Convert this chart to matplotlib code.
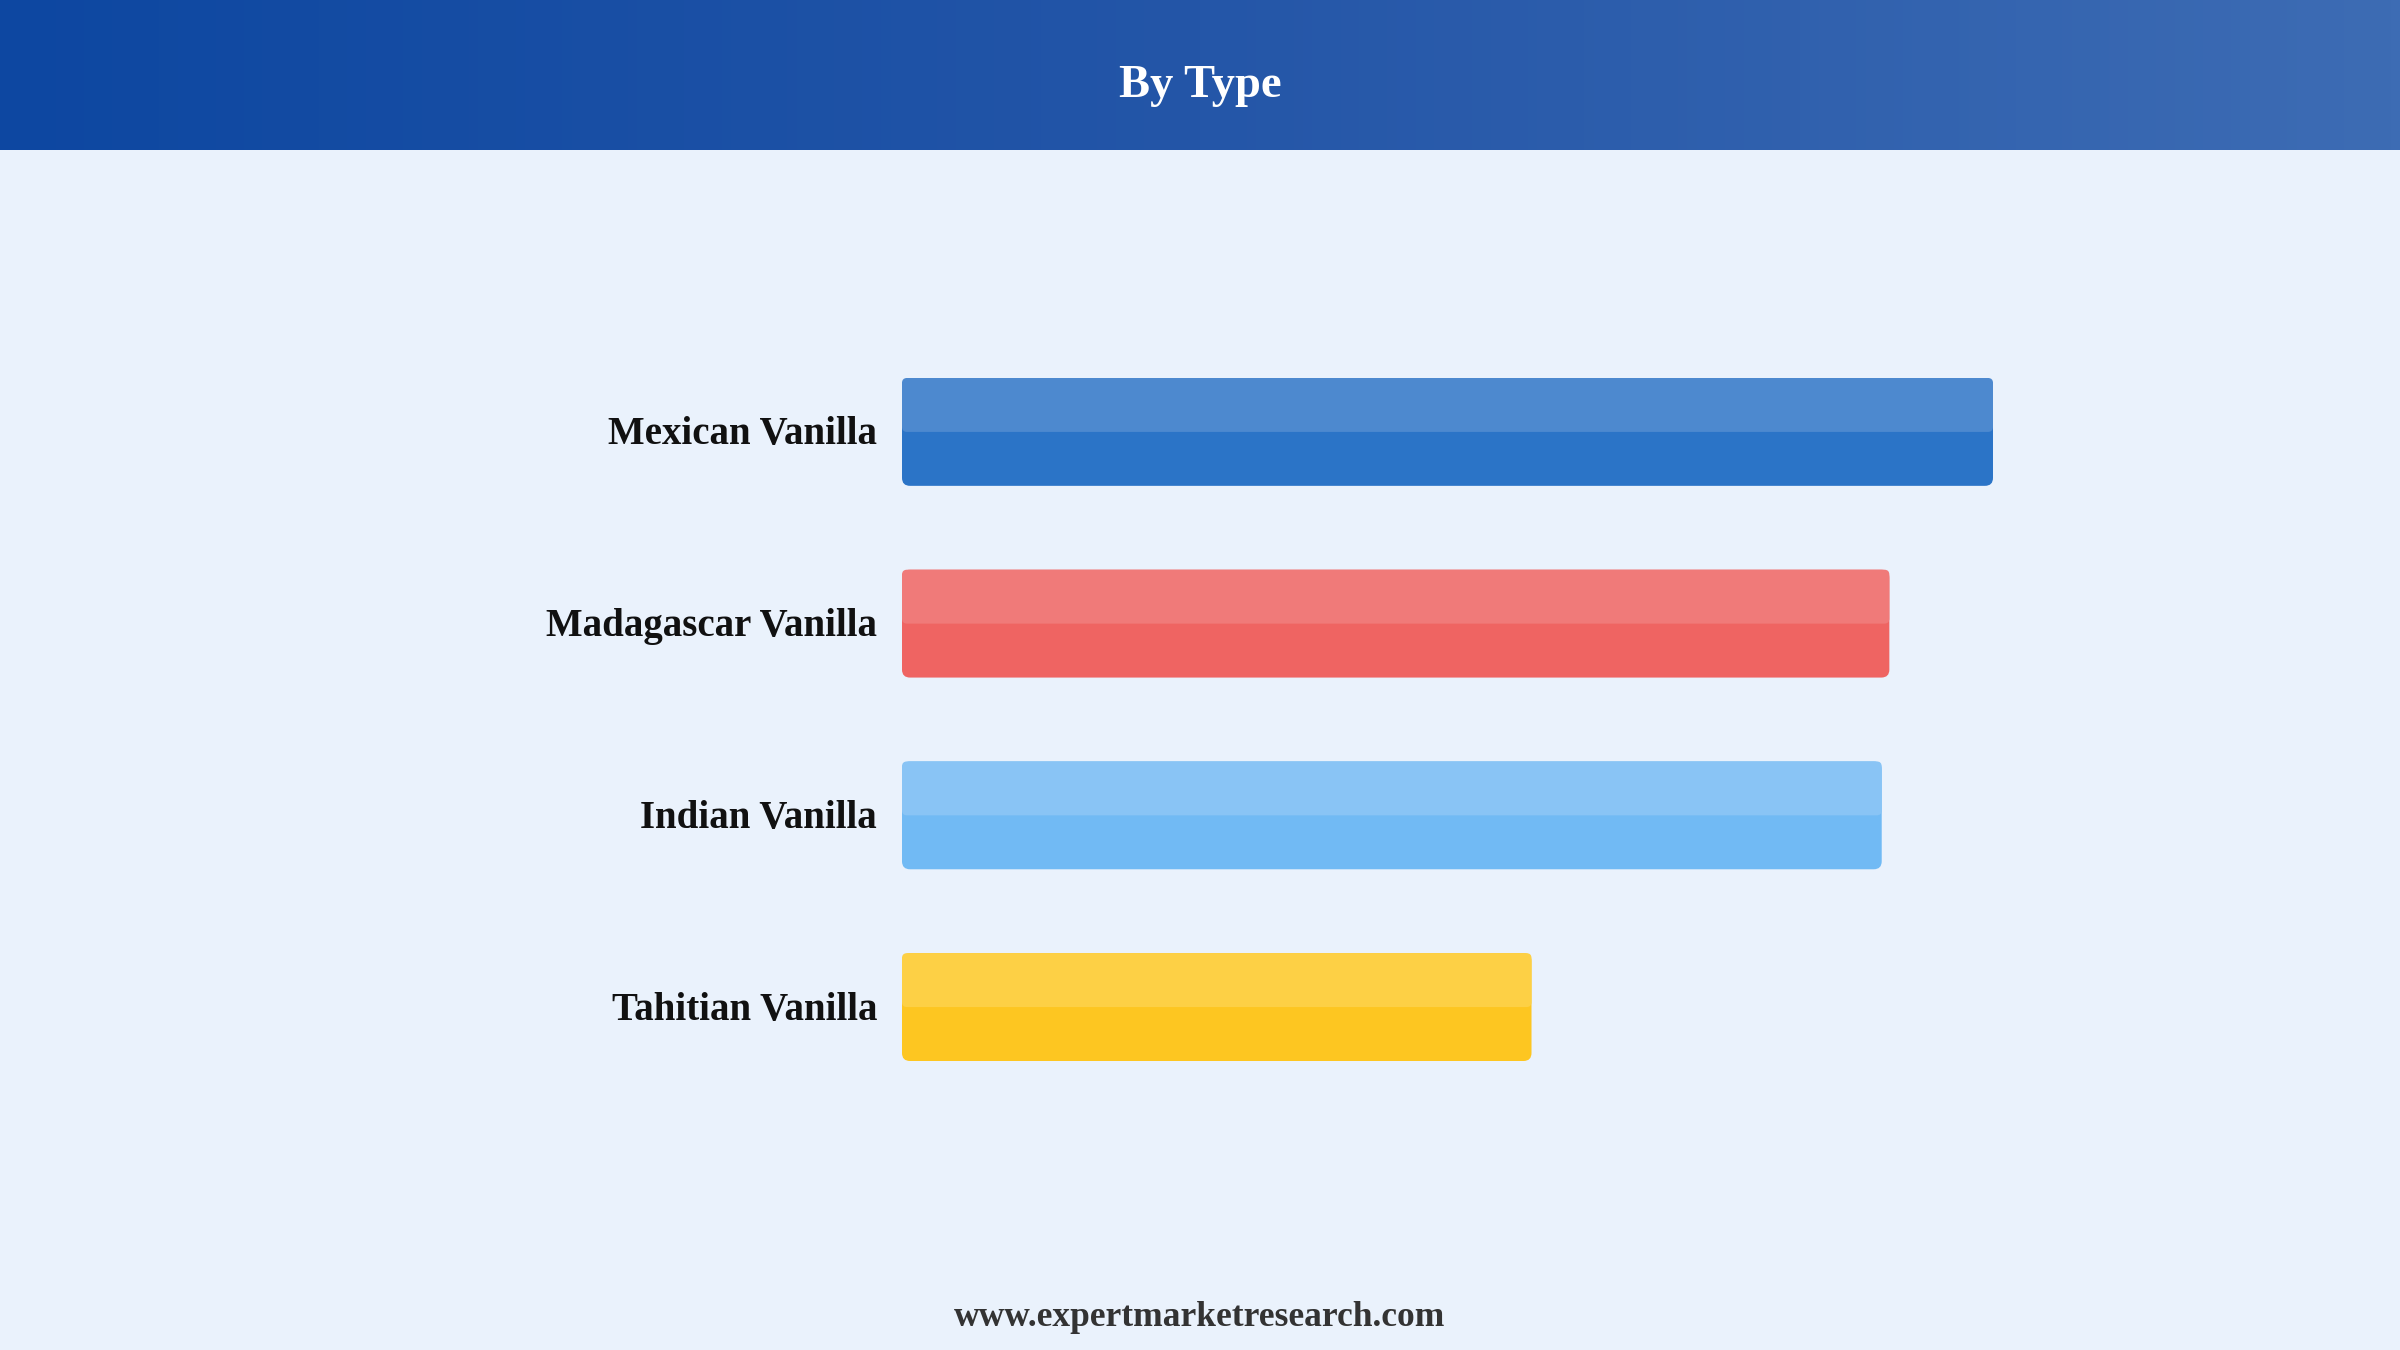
import numpy as np
import matplotlib
matplotlib.use("Agg")
import matplotlib.pyplot as plt
from matplotlib.patches import FancyBboxPatch
from matplotlib.colors import LinearSegmentedColormap

# data (relative index)
categories = ["Mexican Vanilla", "Madagascar Vanilla", "Indian Vanilla", "Tahitian Vanilla"]
values = [100.0, 90.5, 89.8, 57.7]
colors_dark = ["#2b74c7", "#ef6462", "#71baf4", "#fdc621"]
colors_light = ["#4d89cf", "#f07a79", "#89c4f5", "#fdd045"]

TITLE = "By Type"
FOOTER = "www.expertmarketresearch.com"

W, H = 2400, 1350
BG = "#eaf2fc"
FONT = ["Liberation Serif", "DejaVu Serif"]


def main():
    fig = plt.figure(figsize=(W / 100, H / 100), dpi=100, facecolor=BG)

    # header band with horizontal gradient
    hdr = fig.add_axes([0, 1 - 150 / H, 1, 150 / H])
    cmap = LinearSegmentedColormap.from_list("hdr", ["#0d47a1", "#2456a8", "#3d6cb4"])
    hdr.imshow(np.linspace(0, 1, 256)[None, :], aspect="auto", cmap=cmap,
               extent=[0, 1, 0, 1])
    hdr.set_axis_off()
    fig.text(0.5, 1 - 97 / H, TITLE, ha="center", va="baseline", color="white",
             fontsize=33.5, fontweight="bold", family=FONT)

    # bar axes: spans from top of first bar to bottom of last
    bar_h = 108 / 192
    left, right = 902 / W, 1993 / W
    top, bottom = 1 - 378 / H, 1 - 1061 / H
    ax = fig.add_axes([left, bottom, right - left, top - bottom])
    ax.set_facecolor("none")
    ax.set_xlim(0, max(values))
    ax.set_ylim(len(categories) - 1 + bar_h / 2, -bar_h / 2)
    ax.set_axis_off()

    # pixel -> data scale for round corners
    px_x = max(values) / (1993 - 902)
    px_y = 1.0 / 192
    aspect = px_y / px_x

    y = np.arange(len(categories))
    bars = ax.barh(y, values, height=bar_h, color="none")
    for i, b in enumerate(bars):
        x0, y0, w, h = b.get_x(), b.get_y(), b.get_width(), b.get_height()
        r = 8 * px_x
        ax.add_patch(FancyBboxPatch((x0, y0), w, h,
                                    boxstyle=f"round,pad=0,rounding_size={r}",
                                    mutation_aspect=aspect,
                                    fc=colors_dark[i], ec="none", zorder=2))
        r2 = 5 * px_x
        ax.add_patch(FancyBboxPatch((x0, y0), w, h / 2,
                                    boxstyle=f"round,pad=0,rounding_size={r2}",
                                    mutation_aspect=aspect,
                                    fc=colors_light[i], ec="none", zorder=3))
        ax.text(-25 * px_x, y[i] + 3 * px_y, categories[i], ha="right", va="center",
                fontsize=28, fontweight="bold", color="#111111", family=FONT,
                clip_on=False)

    fig.text(0.5, 1 - 1326 / H, FOOTER, ha="center", va="baseline",
             color="#333333", fontsize=25.5, fontweight="bold", family=FONT)

    fig.savefig("out.png", dpi=100, facecolor=BG)
    plt.close(fig)


if __name__ == "__main__":
    main()
